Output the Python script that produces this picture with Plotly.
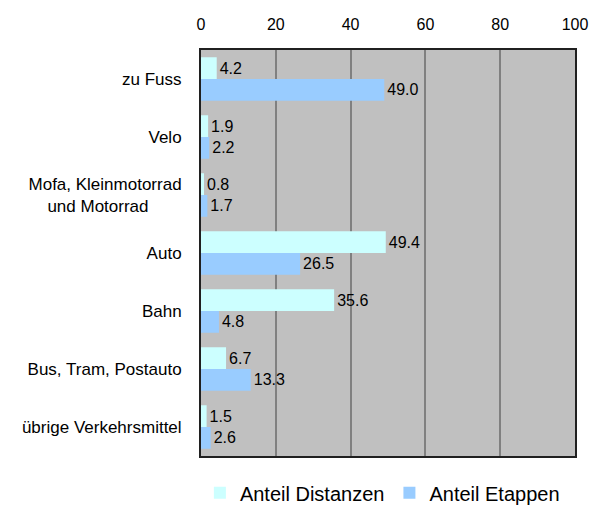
import plotly.graph_objects as go

NB = "\u00a0"
categories = ["zu Fuss", "Velo", "Mofa, Kleinmotorrad<br>und Motorrad" + NB * 7, "Auto", "Bahn",
              "Bus, Tram, Postauto", "übrige Verkehrsmittel"]
anteil_distanzen = [4.2, 1.9, 0.8, 49.4, 35.6, 6.7, 1.5]
anteil_etappen = [49.0, 2.2, 1.7, 26.5, 4.8, 13.3, 2.6]
x_ticks = [0, 20, 40, 60, 80, 100]

font_family = "Arial, Liberation Sans, sans-serif"

fig = go.Figure()
fig.add_trace(go.Bar(
    y=categories, x=anteil_distanzen, orientation="h", name="Anteil Distanzen",
    marker=dict(color="#CCFFFF", line=dict(width=0)),
    text=[f"{v:.1f}" for v in anteil_distanzen], textposition="outside",
    textfont=dict(size=16, color="black", family=font_family), cliponaxis=False,
))
fig.add_trace(go.Bar(
    y=categories, x=anteil_etappen, orientation="h", name="Anteil Etappen",
    marker=dict(color="#99CCFF", line=dict(width=0)),
    text=[f"{v:.1f}" for v in anteil_etappen], textposition="outside",
    textfont=dict(size=16, color="black", family=font_family), cliponaxis=False,
))

fig.update_layout(
    width=589, height=508,
    margin=dict(l=201, r=14, t=50, b=52),
    barmode="group", bargap=0.25, bargroupgap=0,
    plot_bgcolor="#C0C0C0", paper_bgcolor="white",
    font=dict(family=font_family, size=16, color="black"),
    showlegend=True,
    legend=dict(orientation="h", x=0.485, xanchor="center", xref="paper",
                y=0.03, yanchor="middle", yref="container",
                font=dict(size=20), traceorder="normal"),
    xaxis=dict(side="top", range=[0, 100], tickvals=x_ticks, ticks="",
               showgrid=True, gridcolor="#808080", gridwidth=2,
               showline=True, linecolor="#202020", linewidth=2, mirror=True,
               zeroline=False, ticklabelstandoff=12, tickfont=dict(size=16),
               ticklabeloverflow="allow", automargin=False),
    yaxis=dict(autorange="reversed", ticks="", showline=True, linecolor="#202020",
               linewidth=2, mirror=True, ticklabelstandoff=14, tickfont=dict(size=17),
               automargin=False),
)

fig.write_html("out.html", config={"displayModeBar": False},
               post_script="document.body.style.margin='0';document.body.style.overflow='hidden';")
